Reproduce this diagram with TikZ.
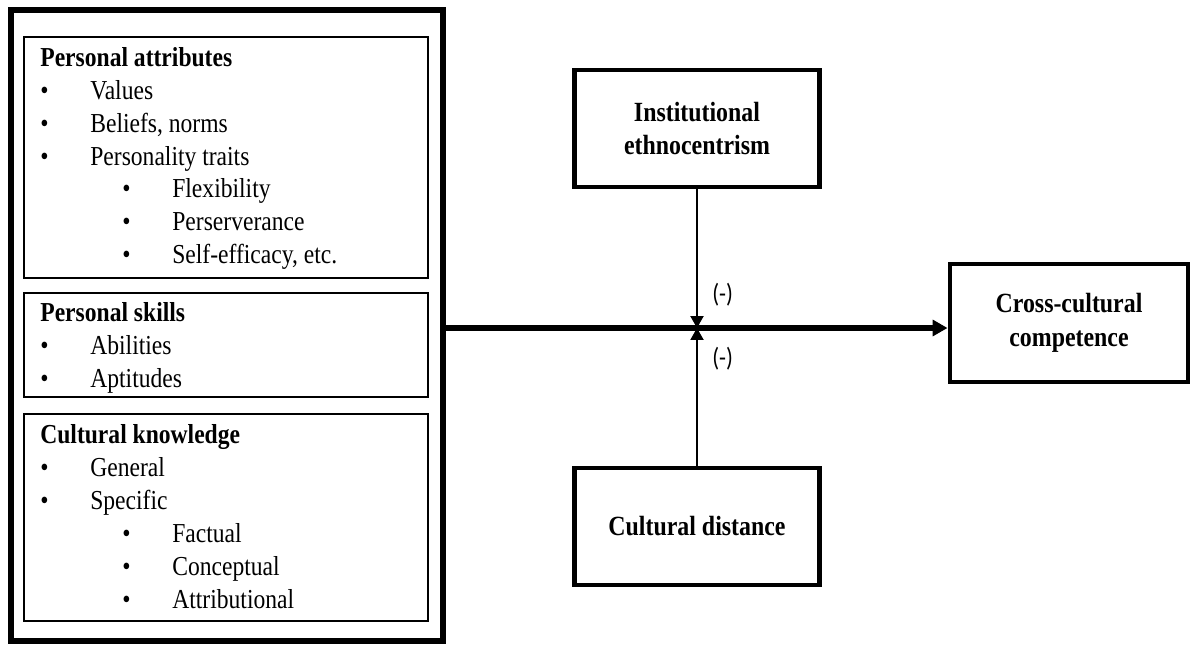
\documentclass[tikz,border=0pt]{standalone}
\usepackage{fontspec}
\setmainfont{Liberation Serif}[FakeStretch=0.86]
\newfontfamily\signfont{Carlito}[FakeStretch=0.86]
\usetikzlibrary{arrows.meta, positioning, calc}

\begin{document}
\begin{tikzpicture}[
    scale=1,
    outerbox/.style={draw, line width=3.4pt, minimum width=8.64cm, minimum height=12.62cm},
    groupbox/.style={draw, line width=1pt, minimum width=8.07cm},
    factorbox/.style={draw, line width=2.8pt, minimum width=4.9cm, minimum height=2.34cm,
      align=center, font=\fontsize{15.8}{19.3}\selectfont\bfseries},
    head/.style={anchor=base west, inner sep=0pt, font=\fontsize{15.6}{18.5}\selectfont\bfseries},
    entry/.style={anchor=base west, inner sep=0pt, font=\fontsize{15.6}{18.5}\selectfont},
    sign/.style={anchor=west, inner sep=0pt, font=\signfont\fontsize{15}{18}\selectfont},
    flow/.style={line width=3.4pt, -{Triangle[length=8.5pt, width=9pt]}},
    moderate/.style={line width=1.1pt, -{Triangle[length=6.8pt, width=7.4pt]}}
  ]
  \useasboundingbox (0,0) rectangle (23.82,12.92);

  % ---------- LEFT: individual traits ----------
  \node[outerbox] (traits) at (4.54, 6.41) {};

  \node[groupbox, minimum height=4.82cm] (attr) at (4.52, 9.77) {};
  \node[groupbox, minimum height=2.08cm] (skills) at (4.52, 6.02) {};
  \node[groupbox, minimum height=4.14cm] (know) at (4.52, 2.57) {};

  % personal attributes
  \node[head] (attrhead) at (0.80, 11.58) {Personal attributes};
  \foreach \txt/\lvl [count=\i] in {Values/1, {Beliefs, norms}/1, {Personality traits}/1,
      Flexibility/2, Perserverance/2, {Self-efficacy, etc.}/2}
    \node[entry] (attr\i) at ({0.80+1.64*(\lvl-1)}, {11.58-0.654*\i})
      {\makebox[1cm][l]{\textbullet}\txt};

  % personal skills
  \node[head] (skillhead) at (0.80, 6.49) {Personal skills};
  \foreach \txt [count=\i] in {Abilities, Aptitudes}
    \node[entry] (skill\i) at (0.80, {6.49-0.655*\i})
      {\makebox[1cm][l]{\textbullet}\txt};

  % cultural knowledge
  \node[head] (knowhead) at (0.80, 4.06) {Cultural knowledge};
  \foreach \txt/\lvl [count=\i] in {General/1, Specific/1, Factual/2, Conceptual/2, Attributional/2}
    \node[entry] (know\i) at ({0.80+1.64*(\lvl-1)}, {4.06-0.66*\i})
      {\makebox[1cm][l]{\textbullet}\txt};

  % ---------- RIGHT: moderators and outcome ----------
  \coordinate (hub) at (13.94, 6.36);

  \node[factorbox] (ethno) at (13.94, 10.35) {Institutional\\ethnocentrism};
  \node[factorbox] (dist) at (13.94, 2.39) {Cultural distance};
  \node[factorbox, minimum width=4.76cm, minimum height=2.36cm] (comp) at (21.38, 6.46)
    {Cross-cultural\\competence};

  \draw[flow] (traits.east |- hub) -- (comp.west |- hub);
  \draw[moderate] (ethno.south) -- (hub);
  \draw[moderate] (dist.north) -- (hub);

  \node[sign] (signup) at ($(hub)+(0.30, 0.67)$) {(-)};
  \node[sign] (signdown) at ($(hub)+(0.30, -0.61)$) {(-)};

\end{tikzpicture}
\end{document}
